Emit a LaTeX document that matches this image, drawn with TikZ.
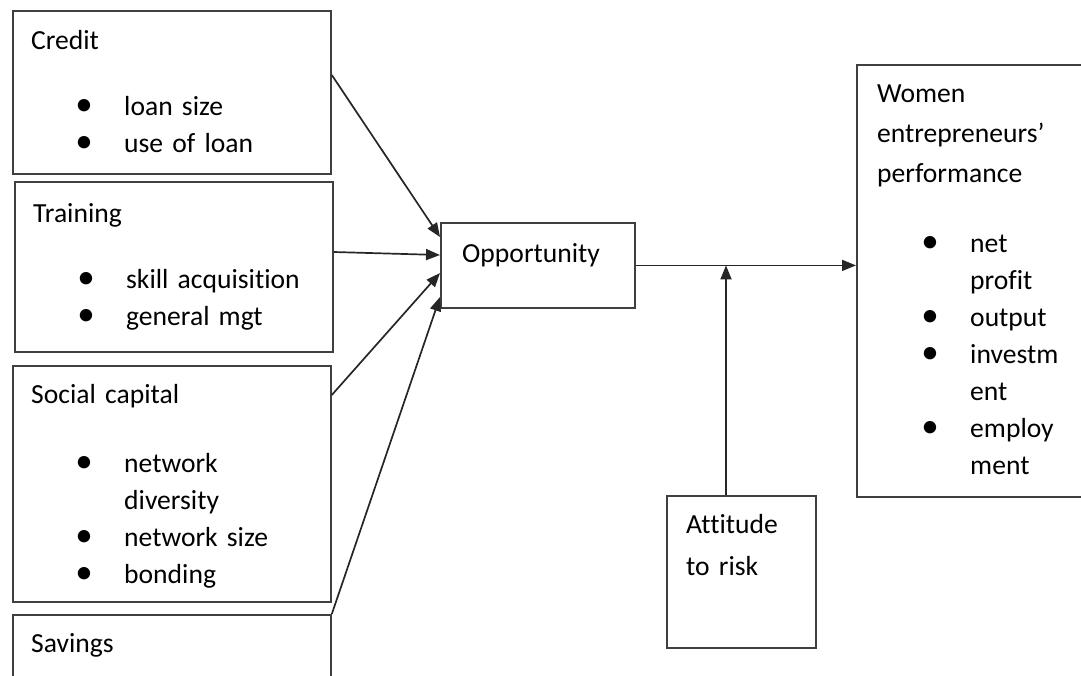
\documentclass[tikz,border=0pt]{standalone}
\usepackage{fontspec}
\setmainfont{Carlito}[Ligatures=NoCommon]
\usetikzlibrary{arrows.meta, positioning}

% bullet item and continuation line
\newcommand{\bul}[1]{\leavevmode\rlap{\makebox[106pt]{\fontsize{35}{37}\selectfont\textbullet}}\hspace*{93pt}#1}
\newcommand{\cnt}[1]{\leavevmode\hspace*{93pt}#1}

\begin{document}
\begin{tikzpicture}[x=1pt, y=-1pt, >={Triangle[length=14pt,width=11pt]},
    font=\fontsize{27.6}{37}\selectfont,
    box/.style={draw=black!75, line width=1.8pt, anchor=north west, inner sep=0pt},
    txt/.style={anchor=base west, align=left, text width=300pt, inner sep=0pt},
    link/.style={->, line width=1.7pt, black!85}]
    \clip (0,0) rectangle (1081,675);

    \node[box, minimum width=318, minimum height=163] (credit) at (12,10) {};
    \node[box, minimum width=318, minimum height=170] (training) at (14,181) {};
    \node[box, minimum width=318, minimum height=236] (social) at (12,365) {};
    \node[box, minimum width=318, minimum height=120] (savings) at (12,614) {};
    \node[box, minimum width=194, minimum height=85] (opp) at (440,222) {};
    \node[box, minimum width=149, minimum height=152] (risk) at (666,495) {};
    \node[box, minimum width=260, minimum height=432] (women) at (856,64) {};

    \node[txt] (credit-t) at ([xshift=19pt, yshift=-39pt]credit.north west)
        {Credit\\[29pt]\bul{loan size}\\\bul{use of loan}};
    \node[txt] (training-t) at ([xshift=19pt, yshift=-41pt]training.north west)
        {Training\\[29pt]\bul{skill acquisition}\\\bul{general mgt}};
    \node[txt] (social-t) at ([xshift=19pt, yshift=-38pt]social.north west)
        {Social capital\\[32pt]\bul{network}\\\cnt{diversity}\\\bul{network size}\\\bul{bonding}};
    \node[txt] (savings-t) at ([xshift=19pt, yshift=-38pt]savings.north west) {Savings};
    \node[txt] (opp-t) at ([xshift=22pt, yshift=-40pt]opp.north west) {Opportunity};
    \node[txt] (risk-t) at ([xshift=20pt, yshift=-38pt]risk.north west)
        {Attitude\\[5pt]to risk};
    \node[txt] (women-t) at ([xshift=21pt, yshift=-38pt]women.north west)
        {Women\\[3pt]entrepreneurs'\\[3pt]performance\\[33pt]\bul{net}\\\cnt{profit}\\\bul{output}\\\bul{investm}\\\cnt{ent}\\\bul{employ}\\\cnt{ment}};

    \coordinate (riskin) at ([xshift=60pt]risk.north west);

    \draw[link] ([yshift=-65pt]credit.north east) -- ([yshift=-15pt]opp.north west);
    \draw[link] ([yshift=-71pt]training.north east) -- ([yshift=-33pt]opp.north west);
    \draw[link] ([yshift=-30pt]social.north east) -- ([yshift=-51pt]opp.north west);
    \draw[link] (savings.north east) -- ([yshift=-75pt]opp.north west);
    \draw[link] (opp.east) -- (opp.east -| women.west);
    \draw[link] (riskin) -- (riskin |- opp.east);
\end{tikzpicture}
\end{document}
